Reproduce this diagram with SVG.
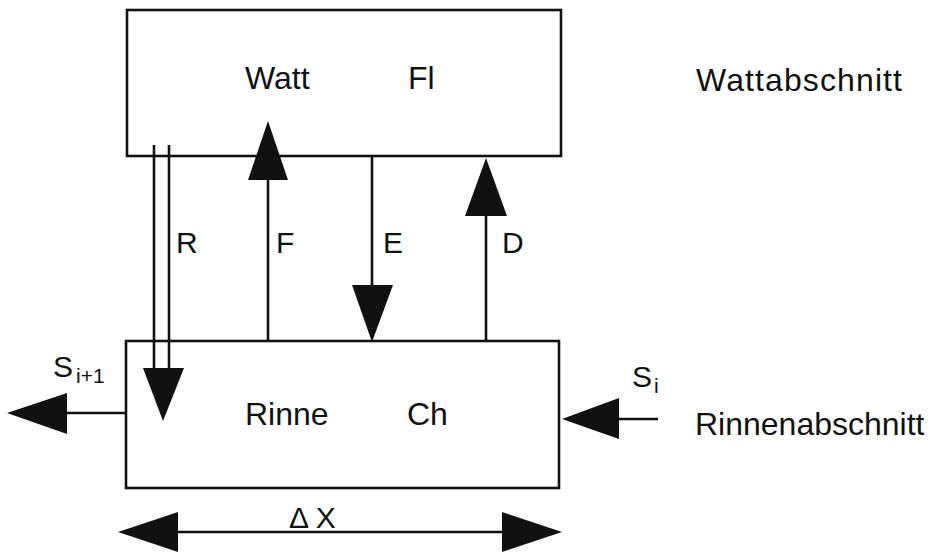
<svg xmlns="http://www.w3.org/2000/svg" width="936" height="554" viewBox="0 0 936 554">
<style>
.box{fill:none;stroke:#111;stroke-width:2.6}
.ln{fill:none;stroke:#111;stroke-width:2.6}
.ah{fill:#111;stroke:none}
text{font-family:"Liberation Sans",Arial,sans-serif;fill:#111}
.t{font-size:32px}
.l{font-size:30px}
.s{font-size:30px}
.sub{font-size:21px}
</style>
<rect width="936" height="554" fill="#fff"/>
<g id="watt">
<rect class="box" x="127" y="10" width="434" height="146"/>
<text class="t" x="245" y="89">Watt</text>
<text class="t" x="408" y="89">Fl</text>
</g>
<g id="rinne">
<rect class="box" x="126" y="341" width="433" height="147"/>
<text class="t" x="245" y="425">Rinne</text>
<text class="t" x="407" y="425">Ch</text>
</g>
<g id="labels">
<text class="t" x="696" y="91" textLength="206" lengthAdjust="spacing">Wattabschnitt</text>
<text class="t" x="695" y="435">Rinnenabschnitt</text>
</g>
<g id="connectors">
<line class="ln" x1="154" y1="145" x2="154" y2="370"/>
<line class="ln" x1="169" y1="145" x2="169" y2="370"/>
<polygon class="ah" points="143,368 184,368 163,421"/>
<text class="l" x="176" y="253">R</text>
<line class="ln" x1="268" y1="341" x2="268" y2="178"/>
<polygon class="ah" points="248,180 288,180 268,121"/>
<text class="l" x="276" y="253">F</text>
<line class="ln" x1="372" y1="156" x2="372" y2="287"/>
<polygon class="ah" points="352,285 393,285 372,342"/>
<text class="l" x="383" y="253">E</text>
<line class="ln" x1="486" y1="341" x2="486" y2="214"/>
<polygon class="ah" points="465,216 507,216 486,158"/>
<text class="l" x="502" y="253">D</text>
<line class="ln" x1="126" y1="413" x2="65" y2="413"/>
<polygon class="ah" points="67,393 67,434 7,413"/>
<text class="s" x="53" y="377">S</text>
<text class="sub" x="76" y="383">i+1</text>
<line class="ln" x1="658" y1="419" x2="617" y2="419"/>
<polygon class="ah" points="619,398 619,439 562,419"/>
<text class="s" x="632" y="387">S</text>
<text class="sub" x="654" y="393">i</text>
<line class="ln" x1="176" y1="532" x2="504" y2="532"/>
<polygon class="ah" points="178,512 178,552 118,532"/>
<polygon class="ah" points="502,512 502,552 562,532"/>
<text class="l" x="289" y="528">Δ X</text>
</g>
</svg>
